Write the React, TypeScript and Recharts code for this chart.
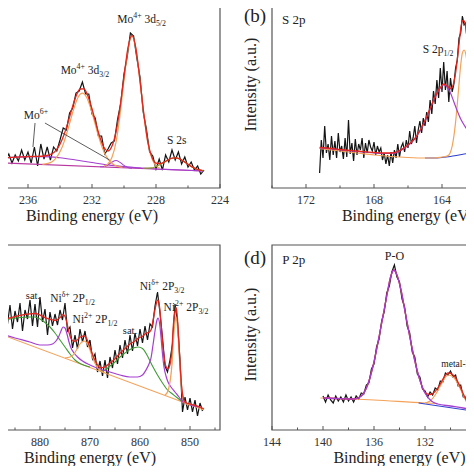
import { LineChart, Line, XAxis, YAxis, ReferenceArea, ReferenceDot, ReferenceLine } from 'recharts'

const FONT = '"Liberation Serif", "Times New Roman", Times, "DejaVu Serif", serif'
const INK = '#141414'
const RED = '#e3261c'
const ORANGE = '#f4a259'
const PURPLE = '#a43fcf'
const MAGENTA = '#b8389f'
const GREEN = '#3f9b35'
const OLIVE = '#8a9a2a'
const BLUE = '#3142d0'

// (a) Mo 3d
const aRawE = [238.0, 237.8, 237.6, 237.4, 237.2, 237.0, 236.8, 236.6, 236.4, 236.2,
  236.0, 235.8, 235.6, 235.4, 235.2, 235.0, 234.8, 234.6, 234.4, 234.2,
  234.0, 233.8, 233.6, 233.4, 233.2, 233.0, 232.8, 232.6, 232.4, 232.2,
  232.0, 231.8, 231.6, 231.4, 231.2, 231.0, 230.8, 230.6, 230.4, 230.2,
  230.0, 229.8, 229.6, 229.4, 229.2, 229.0, 228.8, 228.6, 228.4, 228.2,
  228.0, 227.8, 227.6, 227.4, 227.2, 227.0, 226.8, 226.6, 226.4, 226.2,
  226.0, 225.8, 225.6, 225.4, 225.2, 225.0]
const aRaw = [32, 25, 36, 28, 34, 25, 33, 27, 38, 28,
  36, 25, 41, 22, 44, 29, 41, 28, 41, 37,
  48, 60, 58, 75, 80, 95, 97, 106, 94, 94,
  74, 70, 52, 52, 34, 39, 45, 47, 69, 85,
  114, 131, 155, 152, 130, 111, 76, 59, 36, 32,
  19, 29, 18, 33, 26, 38, 28, 36, 24, 31,
  21, 26, 18, 22, 14, 18]
const aEnvE = [238, 237.5, 237, 236.5, 236, 235.5, 235, 234.5, 234.25, 234, 233.75, 233.5, 233.25, 233, 232.75, 232.5, 232.25, 232,
  231.75, 231.5, 231.25, 231, 230.75, 230.5, 230.25, 230, 229.75, 229.5, 229.25, 229, 228.75, 228.5, 228.25, 228,
  227.75, 227.5, 227.25, 227, 226.75, 226.5, 226.25, 226, 225.75, 225.5, 225.25, 225.1]
const aEnv = [29.3, 30.0, 30.6, 31.1, 31.4, 31.6, 32.0, 34.2, 37.7, 43.9, 53.3, 65.6, 79.5, 91.7, 99.0, 99.2, 91.8, 79.2,
  64.3, 50.5, 40.5, 37.0, 42.0, 56.0, 80.4, 111.1, 140.4, 152.7, 139.2, 107.2, 72.6, 45.1, 30.8, 24.9,
  24.4, 25.9, 28.1, 29.8, 30.1, 28.9, 26.4, 23.6, 21.1, 19.2, 18.0, 17.6]
const aBaseE = [238, 225]
const aBase = [25.3, 17.0]
const aMo6BroadE = [238, 237, 236, 235, 234, 233, 232, 231, 230, 229, 228, 227, 226, 225]
const aMo6Broad = [29.3, 30.6, 31.4, 31.4, 30.2, 28.0, 25.5, 23.1, 21.4, 20.1, 19.0, 18.4, 17.7, 17.0]
const aMo6E = [231.5, 231.25, 231, 230.75, 230.5, 230.25, 230, 229.75, 229.5]
const aMo6 = [21.2, 21.5, 23.2, 25.9, 27.5, 25.6, 22.6, 20.6, 19.9]
const a32E = [235.1, 234.6, 234.35, 234.1, 233.85, 233.6, 233.35, 233.1, 232.85, 232.6, 232.35, 232.1, 231.85, 231.6, 231.35, 231.1, 230.85, 230.6, 230.1]
const a32 = [23.7, 25.4, 28.2, 33.4, 41.5, 53.4, 67.5, 81.2, 91.3, 94.8, 91.0, 80.6, 66.6, 52.2, 40.0, 31.5, 26.0, 22.9, 20.6]
const a52E = [231.25, 231, 230.75, 230.5, 230.25, 230, 229.75, 229.5, 229.25, 229, 228.75, 228.5, 228.25, 228, 227.75]
const a52 = [21.8, 24.1, 30.8, 45.6, 73.1, 107.3, 138.8, 151.9, 138.5, 106.7, 72.2, 44.3, 29.3, 22.2, 19.7]
const aS2sE = [228.8, 228.3, 228.05, 227.8, 227.55, 227.3, 227.05, 226.8, 226.55, 226.3, 226.05, 225.8, 225.55, 225.3, 225.05]
const aS2s = [19.7, 20.1, 21.2, 22.9, 25.1, 27.6, 29.5, 30.2, 29.2, 27.3, 24.2, 21.6, 19.6, 18.2, 17.2]
const aTicks = [240, 238, 236, 234, 232, 230, 228, 226, 224]

// (b) S 2p
const bRawE = [171.2, 171.1, 171.0, 170.9, 170.8, 170.7, 170.6, 170.5, 170.4, 170.3,
  170.2, 170.1, 170.0, 169.9, 169.8, 169.7, 169.6, 169.5, 169.4, 169.3,
  169.2, 169.1, 169.0, 168.9, 168.8, 168.7, 168.6, 168.5, 168.4, 168.3,
  168.2, 168.1, 168.0, 167.9, 167.8, 167.7, 167.6, 167.5, 167.4, 167.3,
  167.2, 167.1, 167.0, 166.9, 166.8, 166.7, 166.6, 166.5, 166.4, 166.3,
  166.2, 166.1, 166.0, 165.9, 165.8, 165.7, 165.6, 165.5, 165.4, 165.3,
  165.2, 165.1, 165.0, 164.9, 164.8, 164.7, 164.6, 164.5, 164.4, 164.3,
  164.2, 164.1, 164.0, 163.9, 163.8, 163.7, 163.6, 163.5, 163.4, 163.3,
  163.2, 163.1, 163.0, 162.9, 162.8, 162.7, 162.6, 162.5, 162.4, 162.3,
  162.2, 162.1, 162.0]
const bRaw = [15, 48, 30, 62, 35, 44, 28, 52, 33, 47,
  30, 55, 36, 42, 29, 50, 31, 68, 34, 45,
  27, 49, 33, 44, 38, 50, 30, 45, 35, 48,
  41, 37, 46, 33, 42, 36, 40, 28, 35, 24,
  33, 22, 36, 25, 38, 30, 44, 31, 41, 45,
  36, 48, 40, 57, 44, 50, 62, 45, 58, 67,
  55, 70, 62, 76, 66, 88, 74, 97, 84, 108,
  90, 120, 96, 126, 98, 117, 86, 110, 96, 104,
  120, 128, 150, 155, 172, 163, 165, 140, 130, 106,
  100, 80, 78]
const bEnvE = [171.2, 170.5, 170, 169, 168, 167.5, 167, 166.6, 166.2, 165.9, 165.6, 165.3, 165.0, 164.7, 164.4, 164.1, 163.9,
  163.7, 163.5, 163.4, 163.3, 163.2, 163.1, 163.0, 162.9, 162.8, 162.7, 162.6, 162.5, 162.4, 162.3, 162.2, 162.1, 162.0]
const bEnv = [40.5, 39.5, 38.5, 37, 35.5, 35, 35, 36.5, 40.5, 44.5, 49.5, 57.5, 67.5, 79.5, 91.5, 100.5, 104,
  102, 99.5, 100.7, 105.9, 115.1, 128.3, 144, 158.7, 167.4, 167.1, 160.3, 145.5, 128.3, 111.1, 96.9, 83.7, 73]
const bP12E = [171.2, 170.5, 170, 169, 168, 167.5, 167, 166.6, 166.2, 165.9, 165.6, 165.3, 165.0, 164.7, 164.4, 164.1,
  163.9, 163.7, 163.5, 163.3, 163.1, 162.9, 162.7, 162.5, 162.3, 162.1, 161.9]
const bP12 = [40, 39, 38, 36.5, 35, 34.5, 34.5, 36, 40, 44, 49, 57, 67, 79, 91, 100,
  103, 101, 95, 86, 77, 69, 63, 58, 54, 50, 47]
const bP32E = [171.2, 170, 169, 168, 167, 166, 165, 164.5, 164.0, 163.8, 163.6, 163.5, 163.4, 163.3, 163.2, 163.1,
  163.0, 162.9, 162.8, 162.7, 162.6, 162.5, 162.4, 162.3, 162.2, 162.1, 162.0, 161.9]
const bP32 = [39.5, 37, 35, 33, 31.5, 30.5, 30, 30, 31, 31.5, 33, 36, 42, 52, 66, 84,
  104, 123, 135, 138, 134, 122, 107, 92, 80, 69, 60, 53]
const bBaseE = [165, 164.5, 164, 163.5, 163, 162.5, 162, 161.5]
const bBase = [30, 30, 30.5, 31.5, 33, 34.5, 35.5, 36]
const bTicks = [174, 172, 170, 168, 166, 164, 162, 160, 158]

// (c) Ni 2p
const cRawE = [895, 894.5, 894, 893.5, 893, 892.5, 892, 891.5, 891, 890.5,
  890, 889.5, 889, 888.5, 888, 887.5, 887, 886.5, 886, 885.5,
  885, 884.5, 884, 883.5, 883, 882.5, 882, 881.5, 881, 880.5,
  880, 879.5, 879, 878.5, 878, 877.5, 877, 876.5, 876, 875.5,
  875, 874.5, 874, 873.5, 873, 872.5, 872, 871.5, 871, 870.5,
  870, 869.5, 869, 868.5, 868, 867.5, 867, 866.5, 866, 865.5,
  865, 864.5, 864, 863.5, 863, 862.5, 862, 861.5, 861, 860.5,
  860, 859.5, 859, 858.5, 858, 857.5, 857, 856.5, 856, 855.5,
  855, 854.5, 854, 853.5, 853, 852.5, 852, 851.5, 851, 850.5,
  850, 849.5, 849, 848.5, 848, 847.5]
const cRaw = [118, 104, 121, 106, 115, 99, 120, 108, 124, 103,
  116, 100, 119, 104, 122, 97, 116, 106, 125, 101,
  119, 108, 127, 99, 120, 111, 130, 104, 126, 103,
  133, 108, 121, 95, 118, 104, 116, 105, 120, 110,
  127, 99, 103, 82, 95, 81, 101, 88, 99, 83,
  90, 71, 76, 58, 69, 54, 70, 52, 73, 62,
  80, 66, 85, 72, 90, 76, 95, 79, 97, 84,
  101, 87, 104, 90, 106, 103, 124, 138, 117, 92,
  64, 58, 70, 86, 126, 108, 70, 18, 33, 20,
  32, 18, 30, 14, 27, 19]
const cEnvE = [895, 892, 890, 888, 886, 884, 882, 881, 880, 879,
  878, 877, 876, 875.4, 875.0, 874.6, 874.2, 873.8, 873.2, 872.6,
  872.0, 871.5, 871.2, 870.8, 870.3, 869.8, 869.2, 868.6, 868, 867,
  866, 865, 864, 863, 862, 861, 860.4, 859.5, 858.8, 858.2,
  857.8, 857.4, 857.0, 856.6, 856.4, 856.1, 855.8, 855.5, 855.2, 854.8,
  854.4, 854.0, 853.6, 853.3, 853.0, 852.8, 852.6, 852.3, 852.0, 851.7,
  851.4, 851.0, 850, 848, 847.2]
const cEnv = [112.5, 111.3, 111.2, 110.5, 112, 114.7, 116.2, 116.5, 114.9, 112.3,
  110.7, 109.5, 112.4, 115.3, 113.6, 106.5, 97.5, 91.5, 88.6, 89.8,
  92.9, 93.8, 94.1, 92.5, 87.1, 79.9, 71.8, 66, 62.3, 63.2,
  67.1, 71.3, 76.8, 81.5, 86.1, 89, 91.6, 93.8, 96.6, 97.7,
  100, 109.2, 120.5, 128.7, 130, 123.5, 107, 88.3, 74, 63.6,
  61.4, 65.5, 81.8, 106.5, 119, 122.6, 116.8, 94.2, 66.2, 45,
  33.3, 27.8, 26, 23, 21]
const cBaseE = [895, 847.2]
const cBase = [109, 20]
const cSat1E = [895, 892, 890, 888, 886, 884, 882, 881, 880, 879, 878, 877, 876, 875, 874, 873, 872, 871, 870]
const cSat1 = [112, 111, 111, 110, 111, 112.5, 113, 113, 111, 107.5, 103, 97, 90, 83, 76, 70, 66.5, 64.5, 63]
const cSat2E = [868, 867, 866, 865, 864, 863, 862, 861, 860.4, 859.5, 858.5, 857.5, 856.5, 855.5, 854.5, 853.5, 852.5, 851.6]
const cSat2 = [59, 60, 64, 68, 73, 77, 80.5, 82.5, 83, 81.5, 74, 64, 55, 47, 40, 36, 32, 28.5]
const cNiDE = [895, 890, 888, 885, 882, 880, 878.5, 877.5, 876.8, 876.2,
  875.8, 875.4, 875.0, 874.6, 874.2, 873.8, 873.2, 872.5, 871.5, 870,
  868, 866, 864, 862, 860.5, 859.5, 858.8, 858.2, 857.8, 857.4,
  857.0, 856.6, 856.4, 856.1, 855.8, 855.5, 855.2, 854.8, 854.4, 853.8,
  853.0, 852.2, 851.6, 850.5, 848]
const cNiD = [109.5, 100, 96.5, 92, 88, 85, 85, 86, 89, 94,
  99, 103, 102, 96, 88, 82, 77, 73, 69, 65,
  61, 58, 55, 53, 53, 55, 60, 66, 72, 85,
  99, 110, 112, 107, 93, 76, 63, 54, 48, 43,
  38, 33, 29, 26, 23]
const cNi12E = [875, 874, 873.2, 872.6, 872, 871.5, 871.2, 870.8, 870.3, 869.8, 869.2, 868.6, 868, 867]
const cNi12 = [72, 73, 76, 81, 86, 88.5, 89, 88, 84, 77, 69, 63, 59.5, 57.5]
const cNi32E = [855, 854.5, 854.0, 853.6, 853.3, 853.0, 852.8, 852.6, 852.3, 852.0, 851.7, 851.4, 851.0, 850]
const cNi32 = [35, 38, 48, 66, 92, 108, 113, 108, 88, 62, 43, 32, 27, 25]
const cTicks = [895, 890, 885, 880, 875, 870, 865, 860, 855, 850, 845]

// (d) P 2p
const dRawE = [140.0, 139.8, 139.6, 139.4, 139.2, 139.0, 138.8, 138.6, 138.4, 138.2,
  138.0, 137.8, 137.6, 137.4, 137.2, 137.0, 136.8, 136.6, 136.4, 136.2,
  136.0, 135.8, 135.6, 135.4, 135.2, 135.0, 134.8, 134.6, 134.4, 134.2,
  134.0, 133.8, 133.6, 133.4, 133.2, 133.0, 132.8, 132.6, 132.4, 132.2,
  132.0, 131.8, 131.6, 131.4, 131.2, 131.0, 130.8, 130.6, 130.4, 130.2,
  130.0, 129.8, 129.6, 129.4, 129.2, 129.0, 128.8, 128.6, 128.4, 128.2]
const dRaw = [34, 28, 35, 30, 27, 34, 29, 33, 28, 35,
  29, 33, 28, 34, 31, 37, 36, 45, 47, 61,
  66, 83, 91, 109, 118, 137, 144, 158, 165, 153,
  148, 131, 123, 104, 97, 78, 73, 56, 53, 41,
  39, 33, 38, 35, 42, 40, 49, 48, 57, 55,
  59, 53, 55, 44, 45, 33, 33, 23, 25, 16]
const dEnvE = [140, 139, 138, 137.5, 137, 136.5, 136, 135.5, 135, 134.7,
  134.45, 134.2, 133.9, 133.5, 133, 132.5, 132, 131.6, 131.2, 130.8,
  130.5, 130.2, 129.9, 129.6, 129.3, 129.0, 128.7, 128.4, 128.2]
const dEnv = [32, 31.5, 31, 31.2, 34, 45, 68, 100, 134, 153,
  160, 155, 141, 114, 81, 54, 37.5, 35.3, 38.6, 46,
  53, 57.1, 56, 52.1, 44.9, 36.3, 28.3, 23, 20.5]
const dPOE = [140, 139, 138, 137.5, 137, 136.5, 136, 135.5, 135, 134.7, 134.45, 134.2, 133.9, 133.5, 133, 132.5, 132, 131.5, 131, 130, 129, 128.2]
const dPO = [32, 31.5, 31, 31.2, 34, 45, 68, 100, 134, 153, 160, 155, 141, 114, 81, 54, 37, 29, 26, 24, 22, 20]
const dMetalE = [132, 131.6, 131.2, 130.8, 130.5, 130.2, 129.9, 129.6, 129.3, 129.0, 128.7, 128.4, 128.2]
const dMetal = [27, 29, 35, 44, 51, 55, 54, 50, 43, 35, 27, 22, 20]
const dBaseE = [140.2, 136, 132, 131]
const dBase = [32, 30, 27, 26.5]
const dBase2E = [132.5, 128]
const dBase2 = [27, 18.5]
const dTicks = [144, 142, 140, 138, 136, 134, 132, 130, 128, 126, 124]

const zip = (es: number[], vs: number[]) => es.map((e, i) => ({ e, v: vs[i] }))

type Part = [string, string?]
type Note = { e: number; h: number; parts: Part[]; anchor?: string; size?: number }

const aNotes: Note[] = [
  { e: 228.9, h: 165, parts: [['Mo'], ['4+', 'sup'], [' 3d'], ['5/2', 'sub']] },
  { e: 232.44, h: 114, parts: [['Mo'], ['4+', 'sup'], [' 3d'], ['3/2', 'sub']] },
  { e: 235.5, h: 69, parts: [['Mo'], ['6+', 'sup']] },
  { e: 226.7, h: 44, parts: [['S 2s']] },
  { e: 237.31, h: 168, parts: [['Mo 3d']], anchor: 'end', size: 13 },
]
const bNotes: Note[] = [
  { e: 173.41, h: 164, parts: [['S 2p']], anchor: 'start', size: 13 },
  { e: 164.23, h: 135, parts: [['S 2p'], ['1/2', 'sub']] },
  { e: 162.41, h: 168, parts: [['S 2p'], ['3/2', 'sub']], anchor: 'start' },
]
const cNotes: Note[] = [
  { e: 887.1, h: 166, parts: [['Ni 2p']], anchor: 'end', size: 13 },
  { e: 881.4, h: 131, parts: [['sat.']], size: 10.5 },
  { e: 873.5, h: 128, parts: [['Ni'], ['δ+', 'sup'], [' 2P'], ['1/2', 'sub']] },
  { e: 869, h: 107, parts: [['Ni'], ['2+', 'sup'], [' 2P'], ['1/2', 'sub']] },
  { e: 862.0, h: 96, parts: [['sat.']], size: 10.5 },
  { e: 855.6, h: 140, parts: [['Ni'], ['δ+', 'sup'], [' 2P'], ['3/2', 'sub']] },
  { e: 850.8, h: 119, parts: [['Ni'], ['2+', 'sup'], [' 2P'], ['3/2', 'sub']] },
]
const dNotes: Note[] = [
  { e: 143.2, h: 166, parts: [['P 2p']], anchor: 'start', size: 13 },
  { e: 134.4, h: 170, parts: [['P-O']], size: 12 },
  { e: 128.4, h: 63, parts: [['metal-P']], anchor: 'end', size: 9.5 },
]
// leader lines from the Mo6+ label
const aLeaders = [
  [{ x: 235.56, y: 65 }, { x: 235.69, y: 41 }],
  [{ x: 234.94, y: 65 }, { x: 230.9, y: 28 }],
]

type Series = { pts: { e: number; v: number }[]; color: string; w: number; raw?: boolean }

const panels = [
  {
    id: 'a', left: -36, top: -2, yw: 0, plotW: 256, lo: 224, hi: 240, step: 4, ticks: aTicks, notes: aNotes, leaders: aLeaders,
    series: [
      { pts: zip(aRawE, aRaw), color: INK, w: 1.2, raw: true },
      { pts: zip(aBaseE, aBase), color: MAGENTA, w: 1.2 },
      { pts: zip(aMo6BroadE, aMo6Broad), color: PURPLE, w: 1.1 },
      { pts: zip(aMo6E, aMo6), color: PURPLE, w: 1.1 },
      { pts: zip(a32E, a32), color: ORANGE, w: 1.2 },
      { pts: zip(a52E, a52), color: ORANGE, w: 1.2 },
      { pts: zip(aS2sE, aS2s), color: OLIVE, w: 1.1 },
      { pts: zip(aEnvE, aEnv), color: RED, w: 1.3 },
    ] as Series[],
  },
  {
    id: 'b', left: 237, top: -2, yw: 35, plotW: 272, lo: 158, hi: 174, step: 4, ticks: bTicks, notes: bNotes, leaders: [],
    tag: '(b)', shift: -11,
    series: [
      { pts: zip(bRawE, bRaw), color: INK, w: 1.2, raw: true },
      { pts: zip(bBaseE, bBase), color: BLUE, w: 1.1 },
      { pts: zip(bP32E, bP32), color: ORANGE, w: 1.2 },
      { pts: zip(bP12E, bP12), color: PURPLE, w: 1.2 },
      { pts: zip(bEnvE, bEnv), color: RED, w: 1.3 },
    ] as Series[],
  },
  {
    id: 'c', left: -40, top: 240, yw: 0, plotW: 260, lo: 844, hi: 896, step: 10, ticks: cTicks, notes: cNotes, leaders: [],
    series: [
      { pts: zip(cRawE, cRaw), color: INK, w: 1.2, raw: true },
      { pts: zip(cBaseE, cBase), color: ORANGE, w: 1.1 },
      { pts: zip(cSat1E, cSat1), color: GREEN, w: 1.1 },
      { pts: zip(cSat2E, cSat2), color: GREEN, w: 1.1 },
      { pts: zip(cNiDE, cNiD), color: PURPLE, w: 1.2 },
      { pts: zip(cNi12E, cNi12), color: ORANGE, w: 1.2 },
      { pts: zip(cNi32E, cNi32), color: ORANGE, w: 1.3 },
      { pts: zip(cEnvE, cEnv), color: RED, w: 1.3 },
    ] as Series[],
  },
  {
    id: 'd', left: 237, top: 240, yw: 35, plotW: 255, lo: 124, hi: 144, step: 4, ticks: dTicks, notes: dNotes, leaders: [],
    tag: '(d)', shift: -3,
    series: [
      { pts: zip(dRawE, dRaw), color: INK, w: 1.2, raw: true },
      { pts: zip(dBaseE, dBase), color: ORANGE, w: 1.1 },
      { pts: zip(dBase2E, dBase2), color: BLUE, w: 1.1 },
      { pts: zip(dMetalE, dMetal), color: ORANGE, w: 1.2 },
      { pts: zip(dEnvE, dEnv), color: RED, w: 1.3 },
      { pts: zip(dPOE, dPO), color: PURPLE, w: 1.3 },
    ] as Series[],
  },
]

const PLOT_H = 185
const TOP = 5
const RIGHT = 14
const AXIS_H = 45

function Tick(props: any) {
  const { x, y, payload, step } = props
  const v = payload.value
  const major = Math.abs(v % step) < 1e-6
  return (
    <g>
      <line x1={x} x2={x} y1={y} y2={y - (major ? 4 : 2.5)} stroke="#555" strokeWidth={1} />
      {major && (
        <text x={x} y={y + 16} textAnchor="middle" fontSize={12} fontFamily={FONT} style={{ fontFamily: FONT }} fill="#333">
          {v}
        </text>
      )}
    </g>
  )
}

function XTitle(props: any) {
  const vb = props.viewBox || { x: 0, y: 0, width: 0 }
  return (
    <text x={vb.x + vb.width / 2} y={vb.y + 33} textAnchor="middle" fontSize={16} fontFamily={FONT} style={{ fontFamily: FONT }} fill="#222">
      Binding energy (eV)
    </text>
  )
}

function YTitle(props: any) {
  const vb = props.viewBox || { x: 0, y: 0, width: 0, height: 0 }
  const cy = vb.y + vb.height / 2 + props.shift
  const lx = vb.x + 19
  return (
    <g fill="#222" style={{ fontFamily: FONT }}>
      <text x={vb.x + 7} y={vb.y + 19} fontSize={19} fontFamily={FONT}>{props.tag}</text>
      <text x={lx} y={cy} fontSize={16} fontFamily={FONT} textAnchor="middle" transform={`rotate(-90 ${lx} ${cy})`}>
        Intensity (a.u.)
      </text>
    </g>
  )
}

function NoteText(props: any) {
  const vb = props.viewBox || { x: 0, y: 0 }
  const size = props.size || 11.5
  let cur = 0
  const spans = (props.parts as Part[]).map((p, i) => {
    const kind = p[1]
    const target = kind === 'sup' ? -size * 0.4 : kind === 'sub' ? size * 0.3 : 0
    const dy = target - cur
    cur = target
    return (
      <tspan key={i} dy={dy} fontSize={kind ? size * 0.68 : size}>
        {p[0]}
      </tspan>
    )
  })
  return (
    <text x={vb.x} y={vb.y} textAnchor={props.anchor || 'middle'} fontFamily={FONT} style={{ fontFamily: FONT }} fontSize={size} fill="#222">
      {spans}
    </text>
  )
}

function App() {
  return (
    <div style={{ position: 'relative', width: 474, height: 474, overflow: 'hidden', margin: -8, background: '#fff', fontFamily: FONT }}>
      {panels.map((p) => (
        <div key={p.id} style={{ position: 'absolute', left: p.left, top: p.top }}>
          <LineChart
            width={p.yw + p.plotW + RIGHT}
            height={TOP + PLOT_H + AXIS_H}
            margin={{ top: TOP, right: RIGHT, bottom: 0, left: 0 }}
          >
            <XAxis
              type="number"
              dataKey="e"
              domain={[p.lo, p.hi]}
              reversed
              allowDataOverflow
              ticks={p.ticks}
              interval={0}
              tickSize={0}
              tickMargin={0}
              tickLine={false}
              axisLine={false}
              height={AXIS_H}
              tick={<Tick step={p.step} />}
              label={<XTitle />}
            />
            {p.yw > 0 ? (
              <YAxis
                type="number"
                domain={[0, PLOT_H]}
                allowDataOverflow
                width={p.yw}
                tick={false}
                tickLine={false}
                axisLine={false}
                label={<YTitle tag={p.tag} shift={p.shift} />}
              />
            ) : (
              <YAxis type="number" domain={[0, PLOT_H]} allowDataOverflow hide />
            )}
            {p.series.map((s, i) => (
              <Line
                key={i}
                data={s.pts}
                dataKey="v"
                type={s.raw ? 'linear' : 'monotone'}
                stroke={s.color}
                strokeWidth={s.w}
                dot={false}
                activeDot={false}
                isAnimationActive={false}
              />
            ))}
            <ReferenceArea
              x1={p.hi}
              x2={p.lo}
              y1={0}
              y2={PLOT_H}
              fill="none"
              fillOpacity={0}
              stroke="#555"
              strokeWidth={1.2}
              ifOverflow="visible"
            />
            {p.leaders.map((seg, i) => (
              <ReferenceLine key={'l' + i} segment={seg} stroke="#333" strokeWidth={0.8} ifOverflow="visible" />
            ))}
            {p.notes.map((n, i) => (
              <ReferenceDot
                key={'n' + i}
                x={n.e}
                y={n.h}
                r={0}
                fill="none"
                stroke="none"
                ifOverflow="visible"
                label={<NoteText parts={n.parts} anchor={n.anchor} size={n.size} />}
              />
            ))}
          </LineChart>
        </div>
      ))}
    </div>
  )
}

export default App
